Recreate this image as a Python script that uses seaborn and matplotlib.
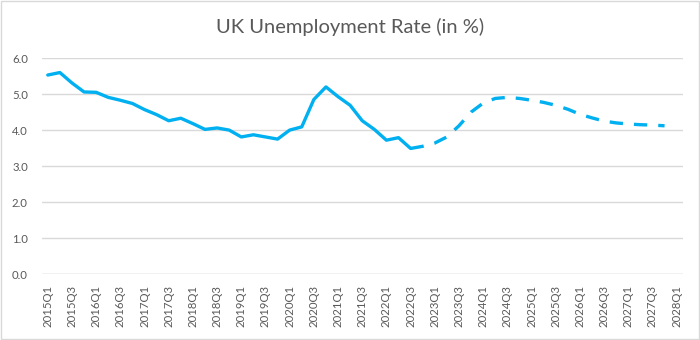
import numpy as np
import pandas as pd
import matplotlib
matplotlib.use("Agg")
import matplotlib.pyplot as plt
from matplotlib.patches import Rectangle
import seaborn as sns

# Quarterly categories 2015Q1 .. 2028Q1
quarters = [f"{y}Q{q}" for y in range(2015, 2029) for q in range(1, 5)][:53]

# Unemployment rate (%), outturn 2015Q1 .. 2022Q3
actual = [5.53, 5.60, 5.31, 5.06, 5.05, 4.91, 4.83, 4.74, 4.57, 4.43,
          4.26, 4.33, 4.18, 4.02, 4.06, 4.00, 3.81, 3.87, 3.81, 3.75,
          4.00, 4.09, 4.85, 5.20, 4.93, 4.69, 4.26, 4.02, 3.72, 3.79,
          3.49]

# Projection 2022Q3 .. 2027Q4 (starts from the last outturn)
forecast = [3.49, 3.55, 3.64, 3.81, 4.12, 4.50, 4.75, 4.88, 4.91, 4.88,
            4.83, 4.77, 4.69, 4.58, 4.44, 4.34, 4.25, 4.20, 4.17, 4.15,
            4.14, 4.12]

title = "UK Unemployment Rate (in %)"
y_ticks = [0.0, 1.0, 2.0, 3.0, 4.0, 5.0, 6.0]

sns.set_style("white")
plt.rcParams["font.family"] = ["Lato", "DejaVu Sans"]

LINE = "#00B0F0"
TEXT = "#595959"
GRID = "#D9D9D9"

df_act = pd.DataFrame({"pos": np.arange(len(actual)), "rate": actual})
start = len(actual) - 1
df_fc = pd.DataFrame({"pos": np.arange(start, start + len(forecast)), "rate": forecast})

fig = plt.figure(figsize=(7.0, 3.4), dpi=100)
ax = fig.add_axes([0.0596, 0.194, 0.9157, 0.635])

sns.lineplot(data=df_act, x="pos", y="rate", ax=ax, color=LINE, lw=2.4,
             solid_joinstyle="round", solid_capstyle="round", zorder=3)
sns.lineplot(data=df_fc, x="pos", y="rate", ax=ax, color=LINE, lw=2.4,
             dashes=False, zorder=3)
ax.lines[-1].set_dashes([4.0, 3.3])
ax.lines[-1].set_dash_capstyle("butt")

ax.set_xlim(-0.5, len(quarters) - 0.5)
ax.set_ylim(0, 6)
ax.set_yticks(y_ticks)
ax.set_yticklabels([f"{v:.1f}" for v in y_ticks])
ax.set_xticks(np.arange(0, len(quarters), 2))
ax.set_xticklabels(quarters[::2], rotation=90)

ax.grid(axis="y", color=GRID, lw=1.0)
ax.set_axisbelow(True)
for s in ax.spines.values():
    s.set_visible(False)
ax.axhline(0, color=GRID, lw=1.0, zorder=1)

ax.tick_params(axis="y", length=0, pad=10, labelsize=8.2, labelcolor=TEXT)
ax.tick_params(axis="x", length=0, pad=8, labelsize=8.2, labelcolor=TEXT)
ax.set_xlabel("")
ax.set_ylabel("")

fig.text(0.5, 0.922, title, ha="center", va="center", fontsize=14.5, color=TEXT)

# Chart area border
fig.patches.append(Rectangle((0.001, 0.002), 0.997, 0.995, transform=fig.transFigure,
                             fill=False, edgecolor=GRID, lw=1.0))

fig.savefig("out.png", dpi=100, facecolor="white")
